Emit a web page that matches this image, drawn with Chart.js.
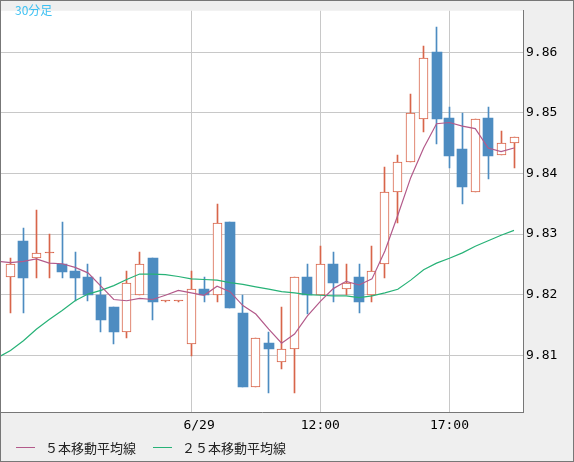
<!DOCTYPE html>
<html>
<head>
<meta charset="utf-8">
<title>30分足</title>
<script src="https://cdn.jsdelivr.net/npm/chart.js@4.4.1/dist/chart.umd.min.js"></script>
<style>
    html, body { margin: 0; padding: 0; background: #efefef; }
    #chart { display: block; }
</style>
</head>
<body>
<canvas id="chart" width="574" height="462"></canvas>
<script>
// 30-minute candles (index 0 = leftmost bar)
const opens  = [9.8229, 9.8289, 9.8260, 9.8269, 9.8251, 9.8239, 9.8229, 9.8200, 9.8180, 9.8138,
                9.8200, 9.8260, 9.8189, 9.8189, 9.8119, 9.8210, 9.8200, 9.8320, 9.8170, 9.8048,
                9.8120, 9.8089, 9.8110, 9.8229, 9.8200, 9.8250, 9.8210, 9.8229, 9.8200, 9.8250,
                9.8369, 9.8419, 9.8490, 9.8600, 9.8491, 9.8441, 9.8369, 9.8491, 9.8430, 9.8450];
const highs  = [9.8260, 9.8310, 9.8339, 9.8300, 9.8320, 9.8270, 9.8251, 9.8229, 9.8180, 9.8239,
                9.8270, 9.8260, 9.8189, 9.8189, 9.8239, 9.8229, 9.8350, 9.8320, 9.8200, 9.8129,
                9.8139, 9.8180, 9.8229, 9.8251, 9.8280, 9.8270, 9.8251, 9.8251, 9.8280, 9.8410,
                9.8430, 9.8531, 9.8610, 9.8641, 9.8510, 9.8500, 9.8490, 9.8510, 9.8470, 9.8460];
const lows   = [9.8169, 9.8169, 9.8228, 9.8228, 9.8228, 9.8189, 9.8189, 9.8138, 9.8119, 9.8128,
                9.8200, 9.8159, 9.8189, 9.8189, 9.8099, 9.8188, 9.8188, 9.8178, 9.8048, 9.8048,
                9.8038, 9.8078, 9.8038, 9.8168, 9.8200, 9.8188, 9.8200, 9.8169, 9.8188, 9.8228,
                9.8319, 9.8419, 9.8469, 9.8449, 9.8409, 9.8349, 9.8369, 9.8390, 9.8430, 9.8409];
const closes = [9.8251, 9.8228, 9.8269, 9.8269, 9.8238, 9.8228, 9.8200, 9.8159, 9.8138, 9.8220,
                9.8250, 9.8188, 9.8189, 9.8189, 9.8210, 9.8200, 9.8319, 9.8178, 9.8048, 9.8129,
                9.8110, 9.8110, 9.8229, 9.8200, 9.8250, 9.8219, 9.8219, 9.8188, 9.8239, 9.8369,
                9.8419, 9.8500, 9.8590, 9.8490, 9.8428, 9.8378, 9.8490, 9.8428, 9.8450, 9.8460];

// moving averages as drawn, starting one bar before the first candle (index -1)
const ma5  = [9.8255, 9.8253, 9.8255, 9.8259, 9.8252, 9.8251, 9.8245, 9.8236, 9.8214, 9.8192,
              9.8190, 9.8194, 9.8192, 9.8199, 9.8207, 9.8203, 9.8199, 9.8214, 9.8205, 9.8182,
              9.8168, 9.8143, 9.8120, 9.8135, 9.8165, 9.8189, 9.8210, 9.8222, 9.8216, 9.8226,
              9.8272, 9.8331, 9.8393, 9.8442, 9.8482, 9.8484, 9.8478, 9.8474, 9.8442, 9.8436,
              9.8442];
const ma25 = [9.8096, 9.8108, 9.8124, 9.8143, 9.8159, 9.8174, 9.8190, 9.8201, 9.8207, 9.8215,
              9.8225, 9.8234, 9.8234, 9.8233, 9.8230, 9.8226, 9.8225, 9.8224, 9.8220, 9.8217,
              9.8213, 9.8209, 9.8205, 9.8203, 9.8200, 9.8199, 9.8198, 9.8198, 9.8195, 9.8198,
              9.8203, 9.8209, 9.8224, 9.8241, 9.8252, 9.8260, 9.8269, 9.8280, 9.8289, 9.8298,
              9.8306];

const xTickValues = [14, 24, 34];
const xTickLabels = ['  6/29', '12:00', '17:00'];
const yTickValues = [9.81, 9.82, 9.83, 9.84, 9.85, 9.86];

const legendNames = ['５本移動平均線', '２５本移動平均線'];
const chartTitle = '30分足';

const RED = '#d8654a';
const BLUE = '#4d8cc1';
const PINK = '#b35a8a';
const GREEN = '#27b277';
const GRID = '#c8c8c8';
const FRAME = '#777777';
const MONO = '"DejaVu Sans Mono", monospace';
const CJK = '"Noto Sans CJK JP", sans-serif';

const bullBodies = [], bearBodies = [], bullWicks = [], bearWicks = [];
opens.forEach((o, i) => {
    const c = closes[i];
    if (c >= o) {
        bullBodies.push({ x: i, y: [o, c] });
        bullWicks.push({ x: i, y: [lows[i], highs[i]] });
    } else {
        bearBodies.push({ x: i, y: [o, c] });
        bearWicks.push({ x: i, y: [lows[i], highs[i]] });
    }
});

const ma5Points = ma5.map((v, i) => ({ x: i - 1, y: v }));
const ma25Points = ma25.map((v, i) => ({ x: i - 1, y: v }));

// snap candle rectangles to whole pixels so the thin outlines stay crisp
const snapPlugin = {
    id: 'snap',
    beforeDatasetDraw(chart, args) {
        const meta = args.meta;
        if (meta.type !== 'bar') return;
        meta.data.forEach(el => {
            const w = el.width;
            const half = (Math.round(w) % 2) ? 0.5 : 0;
            el.x = Math.round(el.x - half) + half;
            let top = Math.round(Math.min(el.y, el.base));
            let bottom = Math.round(Math.max(el.y, el.base));
            if (bottom - top < 1) bottom = top + 1;
            el.y = top;
            el.base = bottom;
        });
    }
};

const framePlugin = {
    id: 'frame',
    beforeDraw(chart) {
        const { ctx, chartArea: a } = chart;
        ctx.save();
        ctx.fillStyle = '#efefef';
        ctx.fillRect(0, 0, chart.width, chart.height);
        ctx.fillStyle = '#ffffff';
        ctx.fillRect(a.left, a.top, a.right - a.left, a.bottom - a.top);
        ctx.restore();
    },
    afterDraw(chart) {
        const { ctx } = chart;
        ctx.save();
        // outer frame
        ctx.strokeStyle = FRAME;
        ctx.lineWidth = 1;
        ctx.strokeRect(0.5, 0.5, chart.width - 1, chart.height - 1);

        // title in the corner
        ctx.fillStyle = '#3cc0f2';
        ctx.font = '12px ' + CJK;
        ctx.textBaseline = 'middle';
        ctx.fillText(chartTitle, 15, 10);

        // legend
        const items = [
            { name: legendNames[0], color: PINK, x: 16 },
            { name: legendNames[1], color: GREEN, x: 153 }
        ];
        ctx.font = '13px ' + CJK;
        items.forEach(it => {
            ctx.strokeStyle = it.color;
            ctx.beginPath();
            ctx.moveTo(it.x, 447.5);
            ctx.lineTo(it.x + 19, 447.5);
            ctx.stroke();
            ctx.fillStyle = '#222';
            ctx.fillText(it.name, it.x + 29, 448);
        });
        ctx.restore();
    }
};

new Chart(document.getElementById('chart'), {
    type: 'bar',
    data: {
        datasets: [
            { type: 'line', data: ma5Points, borderColor: PINK, borderWidth: 1.2, pointRadius: 0, tension: 0, order: 0 },
            { type: 'line', data: ma25Points, borderColor: GREEN, borderWidth: 1.2, pointRadius: 0, tension: 0, order: 0 },
            {
                data: bullBodies, order: 1, barThickness: 9, minBarLength: 1,
                borderColor: RED, borderWidth: 1, borderSkipped: false,
                backgroundColor: c => {
                    const r = c.raw;
                    return r && r.y[0] === r.y[1] ? RED : '#ffffff';
                }
            },
            { data: bearBodies, order: 1, barThickness: 10, backgroundColor: BLUE, borderWidth: 0 },
            { data: bullWicks, order: 2, barThickness: 1, backgroundColor: RED, borderWidth: 0 },
            { data: bearWicks, order: 2, barThickness: 1, backgroundColor: BLUE, borderWidth: 0 }
        ]
    },
    options: {
        responsive: false,
        animation: false,
        layout: { padding: { top: 1, left: 1, right: 0, bottom: 0 } },
        datasets: { bar: { grouped: false } },
        plugins: { legend: { display: false }, tooltip: { enabled: false } },
        scales: {
            x: {
                type: 'linear',
                min: -0.736,
                max: 39.697,
                offset: false,
                afterBuildTicks: s => { s.ticks = xTickValues.map(v => ({ value: v })); },
                afterFit: s => { s.height = 50; },
                grid: { color: GRID, drawTicks: false, offset: false },
                border: { color: FRAME, width: 1 },
                ticks: {
                    autoSkip: false,
                    maxRotation: 0,
                    padding: 6,
                    color: '#000',
                    font: { family: MONO, size: 13 },
                    callback: (v, i) => xTickLabels[i]
                }
            },
            y: {
                position: 'right',
                min: 9.800644,
                max: 9.866828,
                afterBuildTicks: s => { s.ticks = yTickValues.map(v => ({ value: v })); },
                afterFit: s => { s.width = 51; },
                grid: { color: GRID, drawTicks: false },
                border: { color: FRAME, width: 1 },
                ticks: {
                    padding: 3,
                    color: '#000',
                    font: { family: MONO, size: 13 },
                    callback: v => v.toFixed(2)
                }
            }
        }
    },
    plugins: [snapPlugin, framePlugin]
});
</script>
</body>
</html>
